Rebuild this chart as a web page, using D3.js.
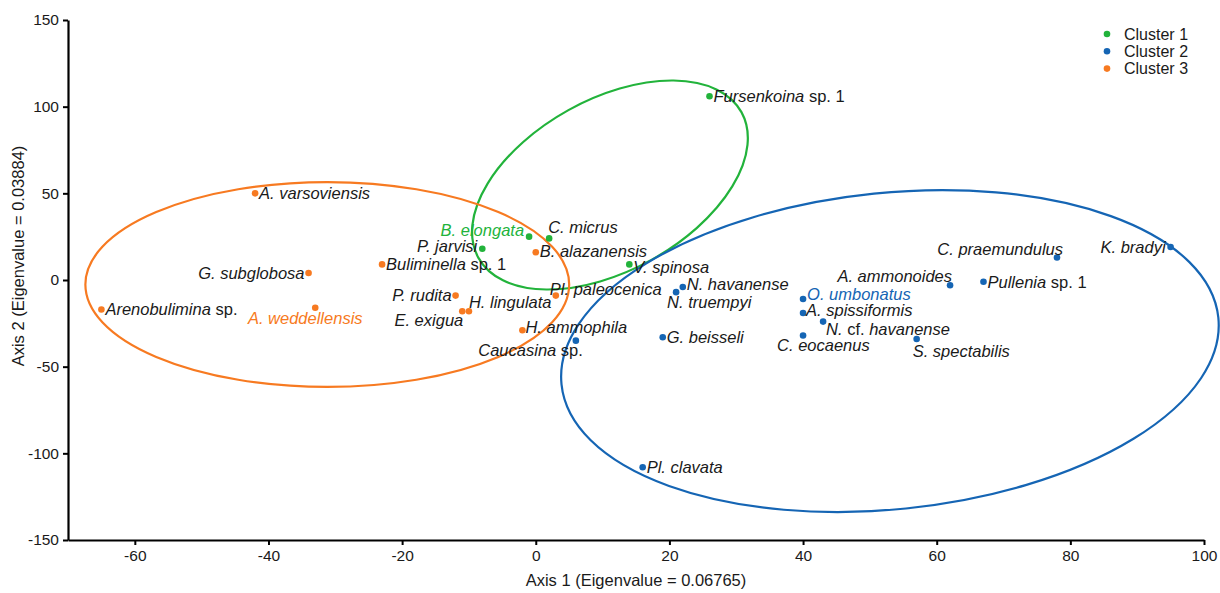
<!DOCTYPE html>
<html>
<head>
<meta charset="utf-8">
<script src="https://cdn.jsdelivr.net/npm/d3@7"></script>
<style>
  html, body { margin: 0; padding: 0; background: #fff; }
  svg { display: block; font-family: "Liberation Sans", Arial, sans-serif; }
</style>
</head>
<body>
<svg id="chart" width="1220" height="593"></svg>
<script>
// Species scores on the first two ordination axes
const species = [
  "A. varsoviensis", "G. subglobosa", "Arenobulimina sp.", "A. weddellensis",
  "Buliminella sp. 1", "P. rudita", "E. exigua", "H. lingulata",
  "B. alazanensis", "Pl. paleocenica", "H. ammophila", "Caucasina sp.",
  "Fursenkoina sp. 1", "B. elongata", "C. micrus", "P. jarvisi", "V. spinosa",
  "N. havanense", "N. truempyi", "G. beisseli", "Pl. clavata",
  "C. praemundulus", "K. bradyi", "A. ammonoides", "Pullenia sp. 1",
  "O. umbonatus", "A. spissiformis", "N. cf. havanense", "C. eocaenus",
  "S. spectabilis"
];
const axis1 = [
  -42, -34, -65, -33,
  -23, -12, -11, -10,
  0, 3, -2, 6,
  26, -1, 2, -8, 14,
  22, 21, 19, 16,
  78, 95, 62, 67,
  40, 40, 43, 40,
  57
];
const axis2 = [
  50, 4, -17, -16,
  9, -9, -18, -18,
  16, -9, -29, -35,
  106, 25, 24, 18, 9,
  -4, -7, -33, -108,
  13, 19, -3, -1,
  -11, -19, -24, -32,
  -34
];
const cluster = [
  3, 3, 3, 3,
  3, 3, 3, 3,
  3, 3, 3, 2,
  1, 1, 1, 1, 1,
  2, 2, 2, 2,
  2, 2, 2, 2,
  2, 2, 2, 2,
  2
];
// Species whose label is printed in the cluster colour
const highlighted = ["A. weddellensis", "B. elongata", "O. umbonatus"];

// Cluster envelopes: centre (axis units), semi-axes (x units, y units), tilt in degrees
const clusterIds = [1, 2, 3];
const clusterNames = ["Cluster 1", "Cluster 2", "Cluster 3"];
const ellipseCx = [11.1, 53.0, -31.2];
const ellipseCy = [54.8, -41.0, -2.6];
const ellipseRx = [22.5, 49.4, 36.2];
const ellipseRy = [49.4, 91.3, 59.1];
const ellipseTilt = [29, 5.8, 0];

const xTicks = [-60, -40, -20, 0, 20, 40, 60, 80, 100];
const yTicks = [-150, -100, -50, 0, 50, 100, 150];

// Label placement next to each point: [anchor, dx, dy]
const labelPlacement = [
  ["start", 4, 0], ["end", -4, 0], ["start", 4, 0], ["middle", -10, 10],
  ["start", 4, 0], ["end", -4, -1], ["end", 1, 9], ["start", 0, -9],
  ["start", 4, -1], ["start", -6, -7], ["start", 3, -3], ["end", 7, 9],
  ["start", 4, 0], ["end", -5, -7], ["start", -1, -11], ["end", -5, -3], ["start", 4, 3],
  ["start", 4, -3], ["start", -9, 10], ["start", 4, 0], ["start", 4, 0],
  ["end", 6, -8], ["end", -5, 0], ["end", 2, -9], ["start", 4, 0],
  ["start", 4, -5], ["start", 3, -3], ["start", 3, 7], ["start", -26, 10],
  ["start", -4, 12]
];

const colors = { 1: "#22b33b", 2: "#1565b4", 3: "#f77a21" };

const svg = d3.select("#chart");
const x = d3.scaleLinear().domain([-70, 100]).range([68, 1204]);
const y = d3.scaleLinear().domain([-150, 150]).range([540, 20]);

// Axes (plain hyphen for negative tick labels)
const fmt = d => String(d);
const xAxis = svg.append("g")
  .attr("transform", `translate(0,${y(-150)})`)
  .call(d3.axisBottom(x).tickValues(xTicks).tickFormat(fmt).tickSize(5).tickPadding(5).tickSizeOuter(0));
const yAxis = svg.append("g")
  .attr("transform", `translate(${x(-70)},0)`)
  .call(d3.axisLeft(y).tickValues(yTicks).tickFormat(fmt).tickSize(5).tickPadding(4).tickSizeOuter(0));
[xAxis, yAxis].forEach(g => {
  g.select(".domain").attr("stroke", "#000").attr("stroke-width", 2.2);
  g.selectAll(".tick line").attr("stroke", "#000").attr("stroke-width", 2);
  g.selectAll(".tick text").attr("fill", "#1a1a1a").attr("font-size", 15.5)
    .attr("font-family", "Liberation Sans, Arial, sans-serif");
});

svg.append("text")
  .attr("x", (x(-70) + x(100)) / 2).attr("y", 586)
  .attr("text-anchor", "middle").attr("font-size", 16.5).attr("fill", "#1a1a1a")
  .text("Axis 1 (Eigenvalue = 0.06765)");
svg.append("text")
  .attr("transform", `translate(24,256) rotate(-90)`)
  .attr("text-anchor", "middle").attr("font-size", 16.5).attr("fill", "#1a1a1a")
  .text("Axis 2 (Eigenvalue = 0.03884)");

// Cluster envelopes
svg.append("g").selectAll("ellipse")
  .data(clusterIds)
  .join("ellipse")
  .attr("transform", (d, i) => `translate(${x(ellipseCx[i])},${y(ellipseCy[i])}) rotate(${-ellipseTilt[i]})`)
  .attr("rx", (d, i) => x(ellipseRx[i]) - x(0))
  .attr("ry", (d, i) => y(0) - y(ellipseRy[i]))
  .attr("fill", "none")
  .attr("stroke", d => colors[d])
  .attr("stroke-width", 2.2);

// Points
const idx = d3.range(species.length);
svg.append("g").selectAll("circle")
  .data(idx)
  .join("circle")
  .attr("cx", i => x(axis1[i]))
  .attr("cy", i => y(axis2[i]))
  .attr("r", 3.3)
  .attr("fill", i => colors[cluster[i]]);

// Labels: genus/species in italics, "sp.", "cf." and numbers upright
const upright = new Set(["sp.", "cf.", "1"]);
const labels = svg.append("g").selectAll("text")
  .data(idx)
  .join("text")
  .attr("x", i => x(axis1[i]) + labelPlacement[i][1])
  .attr("y", i => y(axis2[i]) + labelPlacement[i][2])
  .attr("dy", "0.36em")
  .attr("text-anchor", i => labelPlacement[i][0])
  .attr("font-size", 16.5)
  .attr("fill", i => highlighted.includes(species[i]) ? colors[cluster[i]] : "#1a1a1a");
labels.each(function(i) {
  const t = d3.select(this);
  species[i].split(" ").forEach((w, k) => {
    t.append("tspan")
      .attr("font-style", upright.has(w) ? "normal" : "italic")
      .text((k > 0 ? " " : "") + w);
  });
});

// Legend
const legend = svg.append("g");
clusterIds.forEach((c, i) => {
  legend.append("circle")
    .attr("cx", 1107).attr("cy", 34 + i * 17.3).attr("r", 3.3)
    .attr("fill", colors[c]);
  legend.append("text")
    .attr("x", 1124).attr("y", 34 + i * 17.3).attr("dy", "0.36em")
    .attr("font-size", 16).attr("fill", "#1a1a1a")
    .text(clusterNames[i]);
});
</script>
</body>
</html>
